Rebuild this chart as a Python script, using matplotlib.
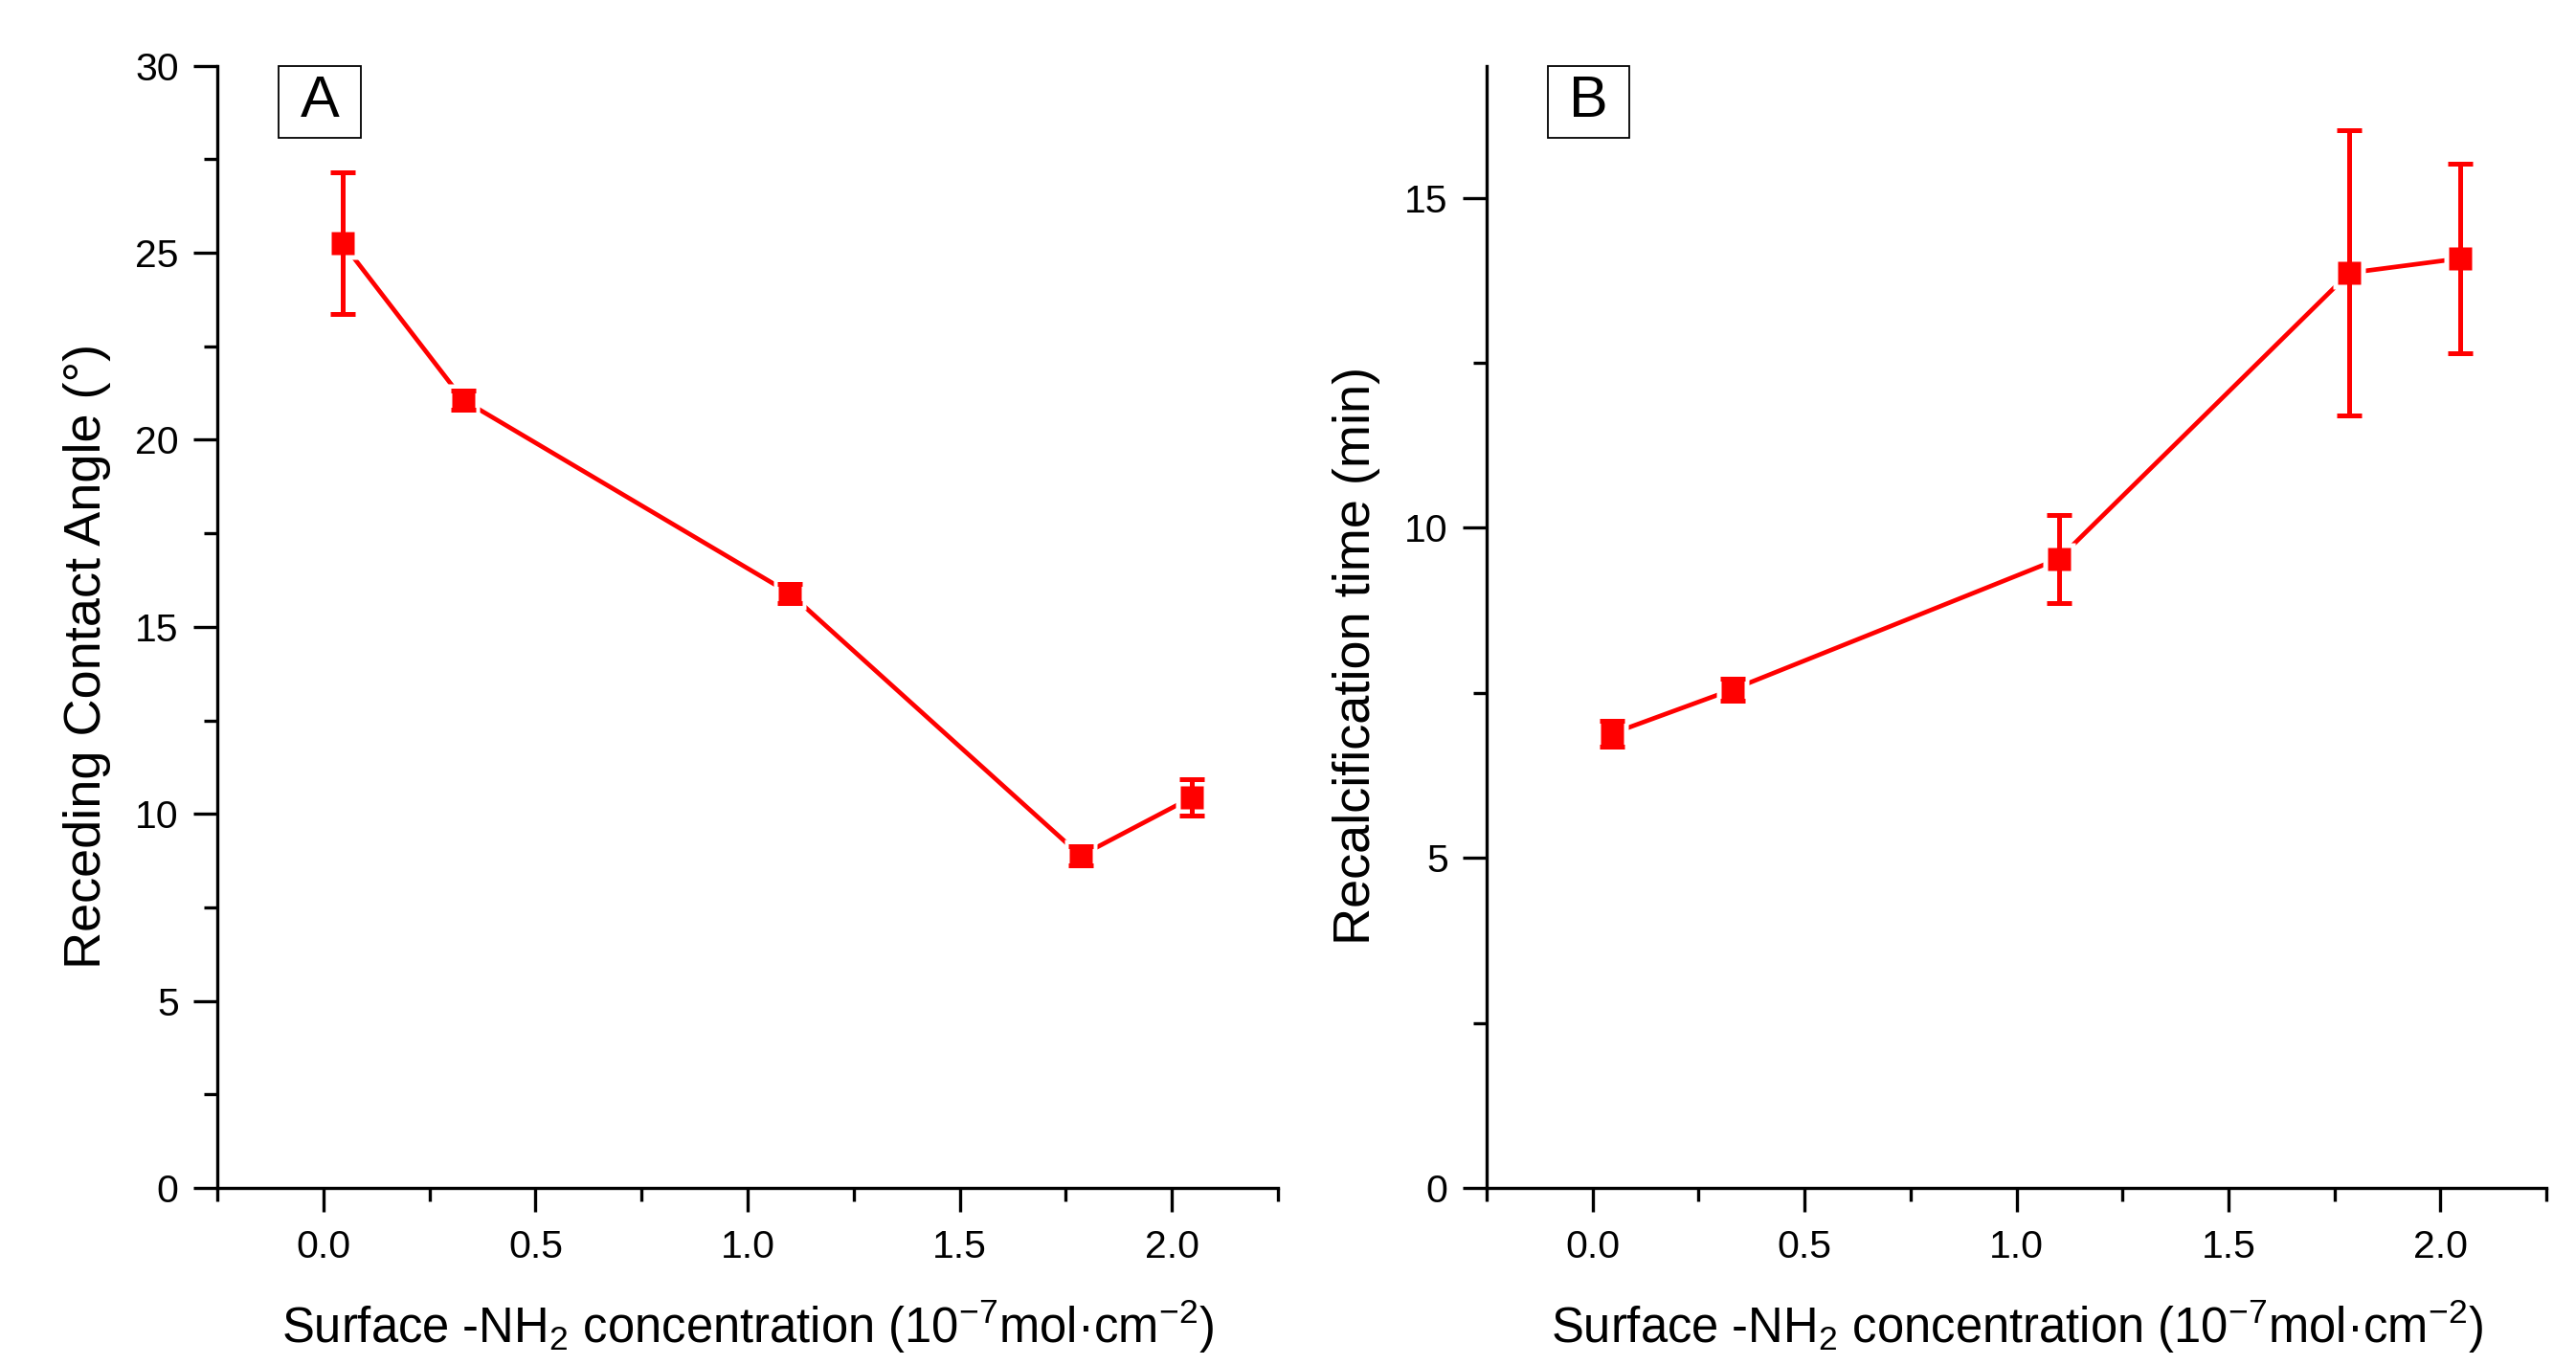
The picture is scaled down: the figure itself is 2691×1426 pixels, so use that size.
import numpy as np
import matplotlib
matplotlib.use("Agg")
import matplotlib.pyplot as plt
from matplotlib.ticker import MultipleLocator, FormatStrFormatter
from matplotlib.patches import Rectangle

plt.rcParams['font.family'] = ['Liberation Sans', 'DejaVu Sans']
plt.rcParams['mathtext.fontset'] = 'custom'
plt.rcParams['mathtext.rm'] = 'Liberation Sans'
plt.rcParams['mathtext.it'] = 'Liberation Sans:italic'
plt.rcParams['mathtext.bf'] = 'Liberation Sans:bold'

# data
nh2 = [0.045, 0.33, 1.10, 1.785, 2.047]
angle = [25.26, 21.06, 15.89, 8.88, 10.44]
angle_err = [1.9, 0.25, 0.25, 0.25, 0.48]
rtime = [6.88, 7.55, 9.53, 13.86, 14.08]
rtime_err = [0.2, 0.17, 0.67, 2.16, 1.44]

xticks = [0.0, 0.5, 1.0, 1.5, 2.0]
xlabel = r'Surface -NH$_2$ concentration (10$^{-7}$mol·cm$^{-2}$)'

W, H = 2691, 1426
fig = plt.figure(figsize=(W / 100, H / 100), dpi=100)

def px_axes(left, top, right, bottom):
    return fig.add_axes([left / W, 1 - bottom / H, (right - left) / W, (bottom - top) / H])

axA = px_axes(227, 68.6, 1335, 1241)
axB = px_axes(1553, 68.6, 2660, 1241)

red = '#ff0000'


def draw(ax, x, y, yerr, ylim, ylabel, tag):
    ax.plot(x, y, color=red, lw=3.4, zorder=2, solid_capstyle='round')
    # white halo so the connecting line stops short of the markers
    ax.plot(x, y, 's', ms=24, color='white', mec='none', zorder=3)
    ax.errorbar(x, y, yerr=yerr, fmt='none', ecolor=red, elinewidth=3.6,
                capsize=9.5, capthick=3.6, zorder=4)
    ax.plot(x, y, 's', ms=17, color=red, mec='none', zorder=5)

    ax.set_xlim(-0.25, 2.25)
    ax.set_ylim(*ylim)
    ax.set_xticks(xticks)
    ax.xaxis.set_major_formatter(FormatStrFormatter('%.1f'))
    ax.xaxis.set_minor_locator(MultipleLocator(0.25))
    ax.yaxis.set_major_locator(MultipleLocator(5))
    ax.yaxis.set_minor_locator(MultipleLocator(2.5))
    ax.yaxis.set_major_formatter(FormatStrFormatter('%d'))

    for s in ['top', 'right']:
        ax.spines[s].set_visible(False)
    for s in ['left', 'bottom']:
        ax.spines[s].set_linewidth(2.4)

    ax.tick_params(which='major', direction='out', length=18, width=2.4,
                   labelsize=29.5, pad=11)
    ax.tick_params(which='minor', direction='out', length=10, width=2.4)
    ax.tick_params(axis='x', which='major', pad=13)

    ax.set_ylabel(ylabel, fontsize=39)
    ax.set_xlabel(xlabel, fontsize=36.5)
    ax.yaxis.set_label_coords(-0.100, 0.474)
    ax.xaxis.set_label_coords(0.5, -0.098)

    ax.add_patch(Rectangle((0.058, 0.936), 0.077, 0.064, transform=ax.transAxes,
                           fill=False, ec='black', lw=1.3, clip_on=False))
    ax.text(0.0965, 0.968, tag, transform=ax.transAxes, fontsize=44,
            ha='center', va='center')


draw(axA, nh2, angle, angle_err, (0, 30), 'Receding Contact Angle (°)', 'A')
draw(axB, nh2, rtime, rtime_err, (0, 17), 'Recalcification time (min)', 'B')

fig.savefig('out.png', dpi=100)
